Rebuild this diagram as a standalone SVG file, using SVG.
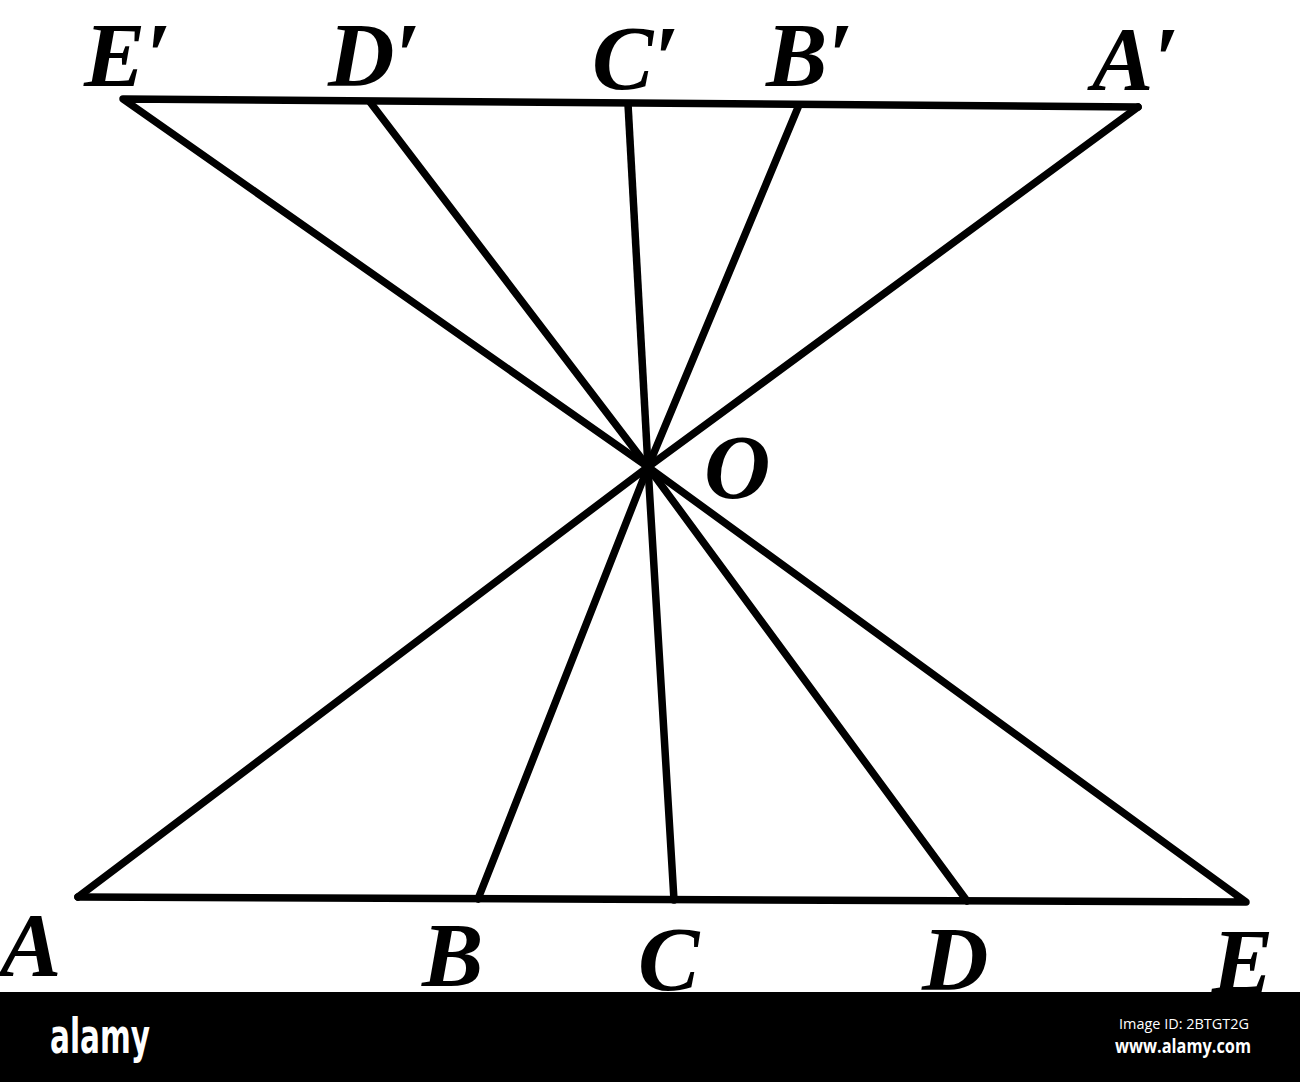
<svg xmlns="http://www.w3.org/2000/svg" width="1300" height="1082" viewBox="0 0 1300 1082">
<style>
.ln{stroke:#000;stroke-width:7.5;stroke-linecap:round;stroke-linejoin:round;fill:none}
.lb{font-family:"Liberation Serif","Times New Roman",serif;font-weight:bold;font-style:italic;font-size:92px;fill:#000}
.wm{fill:#fff}
</style>
<rect width="1300" height="1082" fill="#fff"/>
<g id="connectors">
<polyline class="ln" points="1138,107 123,99 648,467"/>
<line class="ln" x1="370" y1="102" x2="648" y2="467"/>
<line class="ln" x1="628" y1="104" x2="648" y2="467"/>
<line class="ln" x1="799" y1="105" x2="648" y2="467"/>
<line class="ln" x1="1138" y1="107" x2="648" y2="467"/>
<polyline class="ln" points="78,897 1246,902 648,467"/>
<line class="ln" x1="78" y1="897" x2="648" y2="467"/>
<line class="ln" x1="478" y1="899" x2="648" y2="467"/>
<line class="ln" x1="674" y1="900" x2="648" y2="467"/>
<line class="ln" x1="967" y1="901" x2="648" y2="467"/>
</g>
<g id="node-Ep"><text class="lb" x="84" y="86">E′</text></g>
<g id="node-Dp"><text class="lb" x="328" y="86">D′</text></g>
<g id="node-Cp"><text class="lb" x="592" y="89">C′</text></g>
<g id="node-Bp"><text class="lb" x="766" y="86">B′</text></g>
<g id="node-Ap"><text class="lb" x="1092" y="90">A′</text></g>
<g id="node-O"><text class="lb" x="704" y="498">O</text></g>
<g id="node-A"><text class="lb" x="0" y="976">A</text></g>
<g id="node-B"><text class="lb" x="422" y="986">B</text></g>
<g id="node-C"><text class="lb" x="638" y="990">C</text></g>
<g id="node-D"><text class="lb" x="922" y="990">D</text></g>
<g id="node-E"><text class="lb" x="1212" y="992">E</text></g>
<g id="watermark">
<rect x="0" y="992" width="1300" height="90" fill="#000"/>
<text class="wm" x="50" y="1053" font-family="'Liberation Sans Narrow','DejaVu Sans Condensed',sans-serif" font-size="48" font-weight="bold" textLength="100" lengthAdjust="spacingAndGlyphs">alamy</text>
<text class="wm" x="1119" y="1029" font-family="'Open Sans','Noto Sans',sans-serif" font-size="14" textLength="130" lengthAdjust="spacingAndGlyphs">Image ID: 2BTGT2G</text>
<text class="wm" x="1115" y="1053" font-family="'Open Sans','Noto Sans',sans-serif" font-size="19" font-weight="bold" textLength="136" lengthAdjust="spacingAndGlyphs">www.alamy.com</text>
</g>
</svg>
